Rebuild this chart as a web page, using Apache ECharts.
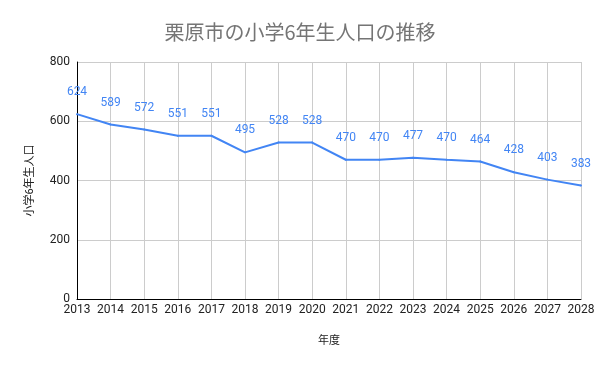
<!DOCTYPE html>
<html><head><meta charset="utf-8">
<script src="https://cdn.jsdelivr.net/npm/echarts@6/dist/echarts.min.js"></script>
<style>html,body{margin:0;padding:0;background:#fff}#c{width:600px;height:371px}</style>
</head><body><div id="c"></div>
<script>
const years = ['2013','2014','2015','2016','2017','2018','2019','2020','2021','2022','2023','2024','2025','2026','2027','2028'];
const values = [624,589,572,551,551,495,528,528,470,470,477,470,464,428,403,383];
const titleText = '栗原市の小学6年生人口の推移';
const yName = '小学6年生人口';
const xName = '年度';
const chart = echarts.init(document.getElementById('c'));
const font = 'Roboto, "Noto Sans CJK JP", sans-serif';
chart.setOption({
  animation:false,
  title:{text:titleText,left:'center',top:17,textStyle:{color:'#757575',fontSize:20,fontWeight:'normal',fontFamily:'"Noto Sans CJK JP", sans-serif'}},
  grid:{left:77,right:19,top:62,bottom:72},
  xAxis:{type:'category',data:years,boundaryGap:false,
    name:xName,nameLocation:'middle',nameGap:37,nameTextStyle:{color:'#222',fontSize:11,fontFamily:font,fontWeight:'normal'},
    axisLine:{lineStyle:{color:'#000',width:1}},axisTick:{show:false},
    axisLabel:{color:'#222',fontSize:12,fontFamily:font,margin:5,interval:0},
    splitLine:{show:true,lineStyle:{color:'#cccccc'}}},
  yAxis:{type:'value',min:0,max:800,interval:200,
    name:yName,nameLocation:'middle',nameGap:41,nameTextStyle:{color:'#222',fontSize:11,fontFamily:font,fontWeight:'normal'},
    axisLine:{show:true,lineStyle:{color:'#000',width:1}},axisTick:{show:false},
    axisLabel:{color:'#222',fontSize:12,fontFamily:font,margin:7},
    splitLine:{lineStyle:{color:'#cccccc'}}},
  series:[{type:'line',data:values,symbol:'circle',symbolSize:2,showSymbol:true,
    lineStyle:{color:'#4285f4',width:2},itemStyle:{color:'#4285f4',borderWidth:0},
    label:{show:true,position:'top',distance:15,color:'#4285f4',fontSize:12,fontFamily:font,opacity:1},
    labelLayout:{hideOverlap:false}}]
});
</script></body></html>
